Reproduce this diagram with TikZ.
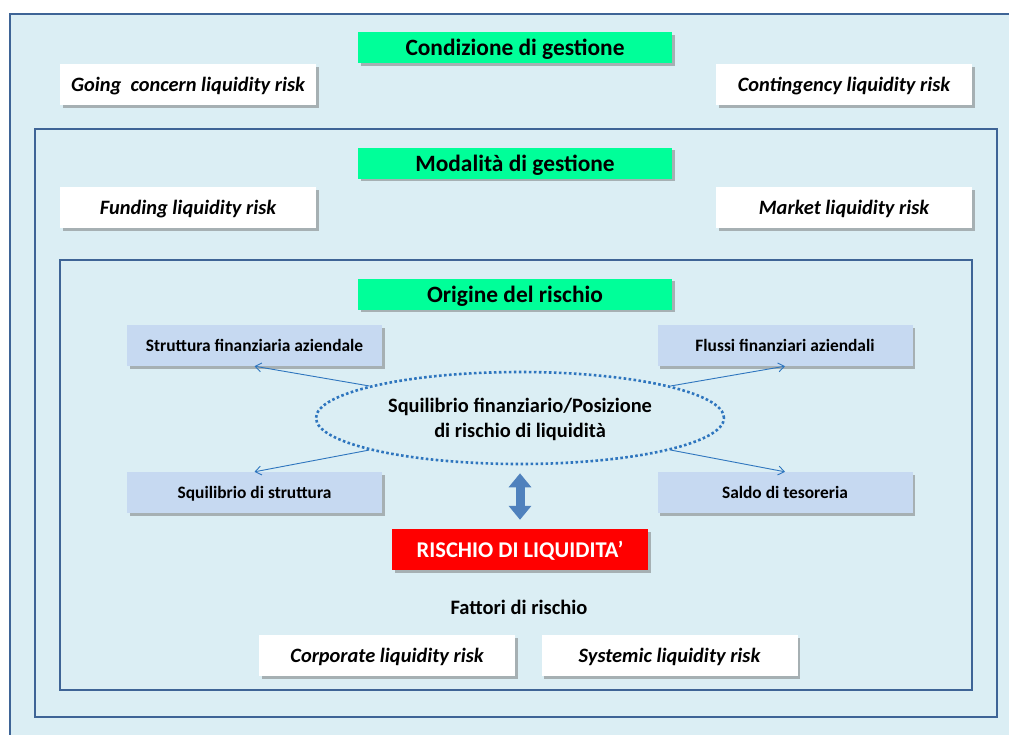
\documentclass[tikz,border=0pt]{standalone}
\usepackage{fontspec}
\setmainfont{Carlito}
\usetikzlibrary{shapes.geometric,shadows,arrows.meta}
\definecolor{bgblue}{RGB}{219,238,244}
\definecolor{frameblue}{RGB}{62,100,150}
\definecolor{mint}{RGB}{0,255,153}
\definecolor{steel}{RGB}{198,217,241}
\definecolor{lineblue}{RGB}{46,117,190}
\definecolor{fatblue}{RGB}{79,129,189}
\tikzset{
  frame/.style={draw=frameblue, line width=1.6pt, fill=bgblue},
  shad/.style={drop shadow={shadow xshift=2.5pt, shadow yshift=-2.5pt, fill=black!60, opacity=0.45}},
  headbox/.style={shad, fill=mint, minimum width=314pt, minimum height=31pt, inner sep=0pt,
     text depth=0pt, font=\fontsize{23.4}{26}\selectfont\bfseries},
  whitebox/.style={shad, fill=white, minimum width=256pt, minimum height=41pt, inner sep=0pt,
     text depth=0pt, font=\fontsize{20.4}{24}\selectfont\bfseries\itshape},
  steelbox/.style={shad, fill=steel, minimum width=255pt, minimum height=41pt, inner sep=0pt,
     text depth=0pt, font=\fontsize{17.4}{20}\selectfont\bfseries},
  thinarrow/.style={draw=lineblue, line width=0.9pt, -{Straight Barb[length=6pt,width=9pt]}},
}
\begin{document}
\begin{tikzpicture}[x=1pt,y=-1pt]
\useasboundingbox (0,0) rectangle (1009,734);
\begin{scope}
\clip (0,0) rectangle (1009,734);
\draw[frame] (10,14) rectangle (1025,750);
\draw[frame] (35,129) rectangle (997,717);
\draw[frame] (60,260) rectangle (972,690);
\end{scope}

\node[headbox] (cond) at (515,47.5) {Condizione di gestione};
\node[whitebox] (going) at (188,84.5) {Going\ \ concern liquidity risk};
\node[whitebox] (cont) at (844,84.5) {Contingency liquidity risk};

\node[headbox] (mod) at (515,163) {Modalità di gestione};
\node[whitebox] (fund) at (188,207.5) {Funding liquidity risk};
\node[whitebox] (mark) at (844,207.5) {Market liquidity risk};

\node[headbox] (orig) at (515,294) {Origine del rischio};
\node[steelbox] (sfa) at (254.5,345.5) {Struttura finanziaria aziendale};
\node[steelbox] (ffa) at (785,345.5) {Flussi finanziari aziendali};
\node[steelbox] (sds) at (254.5,492.5) {Squilibrio di struttura};
\node[steelbox] (sdt) at (785,492.5) {Saldo di tesoreria};

\node[ellipse, draw=lineblue, line width=2.6pt, dash pattern=on 2.6pt off 2.4pt,
      minimum width=408pt, minimum height=92pt, inner sep=0pt, align=center, text depth=0pt,
      font=\fontsize{20.4}{25}\selectfont\bfseries] (ell) at (520,418)
      {Squilibrio finanziario/Posizione\\di rischio di liquidità};

\draw[thinarrow] (ell.168) -- (sfa.south);
\draw[thinarrow] (ell.192) -- (sds.north);
\draw[thinarrow] (ell.12) -- (ffa.south);
\draw[thinarrow] (ell.348) -- (sdt.north);

\node[shad, fill=red, minimum width=256pt, minimum height=41pt, inner sep=0pt, text=white,
      text depth=0pt, font=\fontsize{22.5}{26}\selectfont\bfseries] (risk) at (520,549.5) {RISCHIO DI LIQUIDITA’};

\draw[fatblue, line width=9pt, {Triangle[length=14pt,width=22pt]}-{Triangle[length=14pt,width=22pt]},
      shorten <=8pt, shorten >=9pt] (ell.south) -- (risk.north);

\node[font=\fontsize{20.5}{24}\selectfont\bfseries] (fatt) at (519,607) {Fattori di rischio};
\node[whitebox] (corp) at (387,655.5) {Corporate liquidity risk};
\node[whitebox] (syst) at (669.5,655.5) {Systemic liquidity risk};
\end{tikzpicture}
\end{document}
